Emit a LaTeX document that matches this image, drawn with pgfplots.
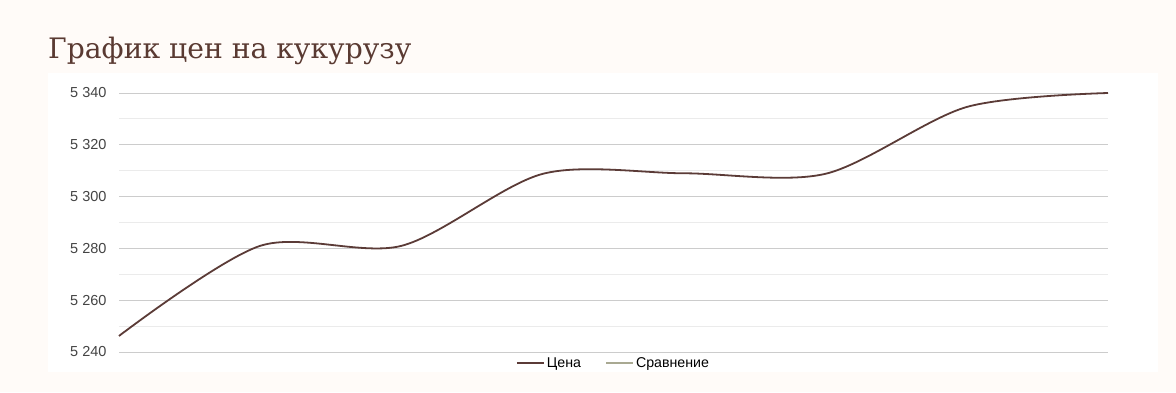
\documentclass[border=0pt]{standalone}
\usepackage{pgfplots}
\pgfplotsset{compat=1.18}
\usepackage{fontspec}
\setmainfont{Liberation Sans}
\newfontfamily\titlefont{DejaVu Serif}
\definecolor{bgcream}{HTML}{FFFBF8}
\definecolor{linebrown}{HTML}{5B3B37}
\definecolor{titlebrown}{HTML}{5A3A32}
\definecolor{cmpcol}{HTML}{A9A992}
\definecolor{majgrid}{HTML}{CCCCCC}
\definecolor{mingrid}{HTML}{EBEBEB}
\definecolor{ticktext}{HTML}{444444}
\begin{document}
\begin{tikzpicture}[x=1pt,y=1pt]
\fill[bgcream] (0,0) rectangle (1176,392);
\fill[white] (48,20) rectangle (1158,319);
\node[anchor=base west,inner sep=0pt,text=titlebrown,font=\titlefont\fontsize{28.2}{33}\selectfont] at (48,334) {График цен на кукурузу};
\begin{axis}[
  at={(119pt,40pt)}, anchor=south west,
  scale only axis, width=989pt, height=259pt,
  xmin=0, xmax=7, ymin=5240, ymax=5340,
  axis line style={draw=none},
  xtick=\empty,
  ytick={5240,5260,5280,5300,5320,5340},
  yticklabels={5 240,5 260,5 280,5 300,5 320,5 340},
  minor ytick={5250,5270,5290,5310,5330},
  ymajorgrids, yminorgrids,
  major grid style={majgrid, line width=1pt},
  minor grid style={mingrid, line width=1pt},
  major tick length=0pt, minor tick length=0pt,
  yticklabel style={font=\fontsize{14.5}{16}\selectfont, text=ticktext, xshift=-9pt},
  clip=false,
  legend style={at={(0.5,0)}, yshift=-11pt, anchor=center, draw=none, fill=none,
    legend columns=2, font=\fontsize{14.2}{16}\selectfont,
    /tikz/every even column/.append style={column sep=22pt}},
  legend image code/.code={\draw[#1, line width=2pt] (0pt,0pt) -- (27pt,0pt);},
]
\addplot[linebrown, line width=1.8pt, smooth, tension=0.5] coordinates {
(0,5246.2) (1,5281) (2,5281) (3,5308.8) (4,5309) (5,5308.8) (6,5334.6) (7,5340)
};
\addlegendentry{Цена}
\addlegendimage{cmpcol}
\addlegendentry{Сравнение}
\end{axis}
\end{tikzpicture}
\end{document}
